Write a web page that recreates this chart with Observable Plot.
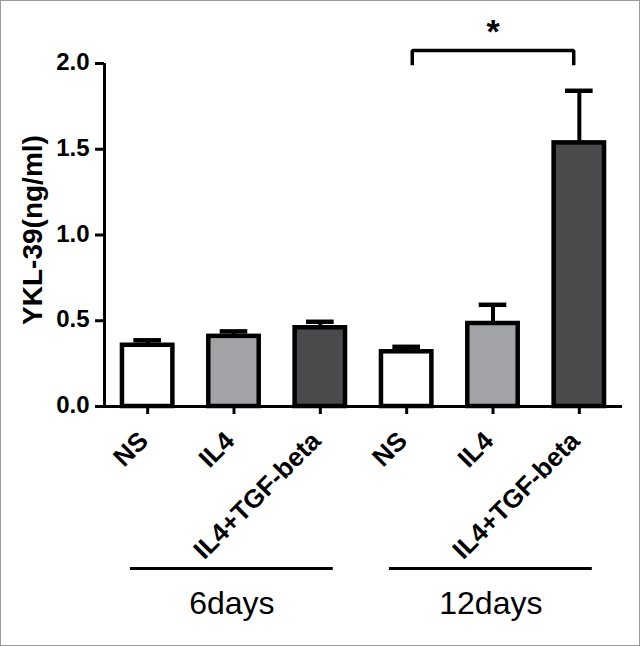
<!DOCTYPE html>
<html>
<head>
<meta charset="utf-8">
<script src="https://cdn.jsdelivr.net/npm/d3@7"></script>
<script src="https://cdn.jsdelivr.net/npm/@observablehq/plot@0.6"></script>
<style>
  html, body { margin: 0; padding: 0; background: #fff; }
  #wrap { width: 640px; height: 646px; box-sizing: border-box; border: 1px solid #9a9a9a; background: #fff; }
  #wrap svg { display: block; }
</style>
</head>
<body>
<div id="wrap"></div>
<script>
// ---- data ----
const categories = ["NS", "IL4", "IL4+TGF-beta", "NS", "IL4", "IL4+TGF-beta"];
const values     = [0.357, 0.409, 0.459, 0.319, 0.484, 1.537];
const errors     = [0.029, 0.029, 0.035, 0.029, 0.109, 0.304];
const fills      = ["#ffffff", "#a2a3a6", "#4a4a4d", "#ffffff", "#a2a3a6", "#4a4a4d"];
const groupNames = ["6days", "12days"];
const groupFirst = [0, 3];
const groupLast  = [2, 5];
const yTicks     = [0, 0.5, 1.0, 1.5, 2.0];
const sigFrom    = [3];
const sigTo      = [5];
const sigLabels  = ["*"];

// ---- build tables ----
const bars = categories.map((c, i) => ({i, cat: c, value: values[i], err: errors[i], fill: fills[i]}));
const groups = groupNames.map((g, k) => ({name: g, a: groupFirst[k] - 0.2, b: groupLast[k] + 0.15}));
const sig = sigLabels.map((s, k) => ({label: s, from: sigFrom[k], to: sigTo[k]}));

const font = "'Liberation Sans', Arial, sans-serif";
const barHalf = 0.292, capHalf = 0.16, inset = 0.065;
const brBase = 1.99, brTop = 2.076;
const xMin = -0.5;
const bracketPts = sig.flatMap((s, k) => [
  {k, x: s.from + inset, y: brBase},
  {k, x: s.from + inset, y: brTop},
  {k, x: s.to - inset, y: brTop},
  {k, x: s.to - inset, y: brBase}
]);

const chart = Plot.plot({
  width: 638,
  height: 644,
  marginLeft: 103,
  marginRight: 17,
  marginTop: 62,
  marginBottom: 239,
  style: {fontFamily: font, color: "#000", background: "transparent", overflow: "visible"},
  x: {domain: [xMin, 5.5]},
  y: {domain: [0, 2]},
  marks: [
    Plot.rectY(bars, {x1: d => d.i - barHalf, x2: d => d.i + barHalf, y1: 0, y2: "value",
      fill: d => d.fill, stroke: "#000", strokeWidth: 4.5}),
    Plot.ruleX(bars, {x: "i", y1: "value", y2: d => d.value + d.err, stroke: "#000", strokeWidth: 4}),
    Plot.ruleY(bars, {y: d => d.value + d.err, x1: d => d.i - capHalf, x2: d => d.i + capHalf, stroke: "#000", strokeWidth: 4.5}),
    Plot.ruleX([xMin], {stroke: "#000", strokeWidth: 3}),
    Plot.ruleY([0], {stroke: "#000", strokeWidth: 3}),
    // tick marks
    Plot.axisY({ticks: yTicks, tickFormat: () => null, tickSize: 9, strokeWidth: 3, label: null}),
    Plot.axisX({ticks: d3.range(categories.length), tickFormat: () => null, tickSize: 8, strokeWidth: 3, label: null}),
    // tick labels
    Plot.text(yTicks, {x: xMin, y: d => d, text: d => d3.format(".1f")(d), textAnchor: "end", lineAnchor: "middle",
      dx: -15, dy: -1, fontSize: 24, fontWeight: "bold", fill: "#000"}),
    Plot.text(bars, {x: "i", y: 0, text: "cat", rotate: -45, textAnchor: "end", lineAnchor: "bottom",
      dx: 2, dy: 36, fontSize: 26, fontWeight: "bold", fill: "#000"}),
    Plot.text(["YKL-39(ng/ml)"], {frameAnchor: "left", textAnchor: "middle", rotate: -90, dx: -71, dy: -5,
      fontSize: 28, fontWeight: "bold", fill: "#000"}),
    Plot.ruleY(groups, {y: 0, x1: "a", x2: "b", dy: 162, stroke: "#000", strokeWidth: 3}),
    Plot.text(groups, {x: d => (d.a + d.b) / 2, y: 0, dy: 197, text: "name", fontSize: 32, fill: "#000"}),
    Plot.line(bracketPts, {x: "x", y: "y", z: "k", stroke: "#000", strokeWidth: 3.5, strokeLinejoin: "miter", strokeLinecap: "butt"}),
    Plot.text(sig, {x: d => (d.from + d.to) / 2, y: brTop, dy: -18, text: "label", fontSize: 34, fontWeight: "bold", fill: "#000"})
  ]
});
document.getElementById("wrap").appendChild(chart);
</script>
</body>
</html>
